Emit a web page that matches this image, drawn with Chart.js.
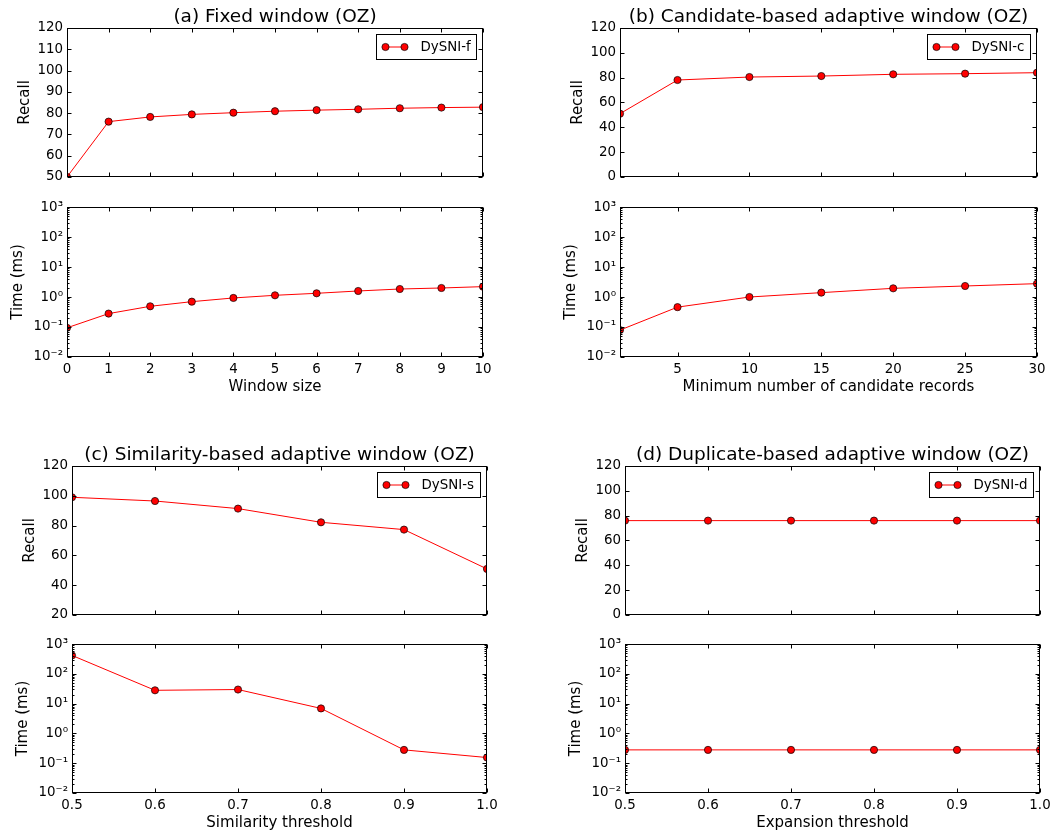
<!DOCTYPE html>
<html>
<head>
<meta charset="utf-8">
<script src="https://cdn.jsdelivr.net/npm/chart.js@4.4.1/dist/chart.umd.min.js"></script>
<style>
  body { margin: 0; background: #fff; }
  #fig { position: relative; width: 1064px; height: 835px; overflow: hidden; background: #fff; }
  #fig canvas { position: absolute; }
</style>
</head>
<body>
<div id="fig"></div>
<script>
// --- values ---
const windowSizes = [0, 1, 2, 3, 4, 5, 6, 7, 8, 9, 10];
const recallFixed = [50, 76, 78.2, 79.4, 80.2, 80.9, 81.4, 81.8, 82.3, 82.6, 82.8];
const timeFixed = [0.094, 0.28, 0.49, 0.70, 0.93, 1.14, 1.33, 1.59, 1.85, 2.0, 2.22];

const minCandidates = [1, 5, 10, 15, 20, 25, 30];
const recallCand = [51, 78.1, 80.5, 81.3, 82.7, 83.2, 84.0];
const timeCand = [0.079, 0.46, 1.0, 1.40, 1.95, 2.33, 2.79];

const simThresholds = [0.5, 0.6, 0.7, 0.8, 0.9, 1.0];
const recallSim = [99, 96.5, 91.4, 82.2, 77.3, 50.9];
const timeSim = [415, 28, 29.7, 6.9, 0.28, 0.155];

const expThresholds = [0.5, 0.6, 0.7, 0.8, 0.9, 1.0];
const recallDup = [76, 76, 76, 76, 76, 76];
const timeDup = [0.28, 0.28, 0.28, 0.28, 0.28, 0.28];

// --- tick labels ---
const xTicksFixed = [0, 1, 2, 3, 4, 5, 6, 7, 8, 9, 10];
const xTicksCand = [5, 10, 15, 20, 25, 30];
const xTicksThresh = [0.5, 0.6, 0.7, 0.8, 0.9, 1.0];
const recallTicksFixed = [50, 60, 70, 80, 90, 100, 110, 120];
const recallTicks0 = [0, 20, 40, 60, 80, 100, 120];
const recallTicks20 = [20, 40, 60, 80, 100, 120];
const timeTicks = [0.01, 0.1, 1, 10, 100, 1000];
const timeTickLabels = ['10\u207B\u00B2', '10\u207B\u00B9', '10\u2070', '10\u00B9', '10\u00B2', '10\u00B3'];

Chart.defaults.font.family = "'DejaVu Sans'";
Chart.defaults.color = '#000';

// frame + inward ticks on all four sides, like the matplotlib classic style
const frameTicks = {
  id: 'frameTicks',
  afterDatasetsDraw(chart) {
    const { ctx, chartArea: a, scales: { x, y } } = chart;
    const L = Math.round(a.left) + 0.5, R = Math.round(a.right) - 0.5;
    const T = Math.round(a.top) + 0.5, B = Math.round(a.bottom) - 0.5;
    ctx.save();
    ctx.strokeStyle = '#000';
    ctx.lineWidth = 1;
    ctx.strokeRect(L, T, R - L, B - T);
    ctx.beginPath();
    x.ticks.forEach(t => {
      const px = Math.round(x.getPixelForValue(t.value)) + 0.5;
      ctx.moveTo(px, B); ctx.lineTo(px, B - 4);
      ctx.moveTo(px, T); ctx.lineTo(px, T + 4);
    });
    y.ticks.forEach(t => {
      const py = Math.round(y.getPixelForValue(t.value)) + 0.5;
      ctx.moveTo(L, py); ctx.lineTo(L + 4, py);
      ctx.moveTo(R, py); ctx.lineTo(R - 4, py);
    });
    if (y.type === 'logarithmic') {
      for (let d = y.min; d < y.max; d *= 10) {
        for (let m = 2; m <= 9; m++) {
          const py = Math.round(y.getPixelForValue(d * m)) + 0.5;
          ctx.moveTo(L, py); ctx.lineTo(L + 2, py);
          ctx.moveTo(R, py); ctx.lineTo(R - 2, py);
        }
      }
    }
    ctx.stroke();
    ctx.restore();
  }
};

// boxed legend in the upper right corner of the axes
const cornerLegend = {
  id: 'cornerLegend',
  afterDraw(chart, args, opts) {
    if (!opts.show) return;
    const { ctx, chartArea: a } = chart;
    const ds = chart.data.datasets[0];
    ctx.save();
    ctx.font = "13.4px 'DejaVu Sans'";
    const tw = ctx.measureText(ds.label).width;
    const w = Math.round(44 + tw + 6), h = 25;
    const bx = Math.round(a.right - 7 - w) + 0.5, by = Math.round(a.top + 6) + 0.5;
    ctx.fillStyle = '#fff';
    ctx.fillRect(bx, by, w, h);
    ctx.strokeStyle = '#000';
    ctx.lineWidth = 1;
    ctx.strokeRect(bx, by, w, h);
    const my = by + h / 2;
    ctx.strokeStyle = ds.borderColor;
    ctx.beginPath();
    ctx.moveTo(bx + 9, my); ctx.lineTo(bx + 28, my);
    ctx.stroke();
    [bx + 9, bx + 28].forEach(cx => {
      ctx.beginPath();
      ctx.arc(cx, my, 3.6, 0, Math.PI * 2);
      ctx.fillStyle = ds.pointBackgroundColor;
      ctx.fill();
      ctx.lineWidth = 0.7;
      ctx.strokeStyle = ds.pointBorderColor;
      ctx.stroke();
    });
    ctx.fillStyle = '#000';
    ctx.textBaseline = 'middle';
    ctx.fillText(ds.label, bx + 44, my + 0.5);
    ctx.restore();
  }
};

const fig = document.getElementById('fig');
const YW = 60, PR = 24;

function makeChart(p) {
  const top = p.title ? 26 : 12;
  const bottom = p.xTitle ? 45 : 12;
  const cv = document.createElement('canvas');
  const w = YW + (p.box[2] - p.box[0]) + PR;
  const h = top + (p.box[3] - p.box[1]) + bottom;
  cv.width = w; cv.height = h;
  cv.style.left = (p.box[0] - YW) + 'px';
  cv.style.top = (p.box[1] - top) + 'px';
  fig.appendChild(cv);
  const isLog = p.yType === 'logarithmic';
  new Chart(cv, {
    type: 'line',
    data: {
      datasets: [{
        label: p.label || '',
        data: p.xs.map((x, i) => ({ x: x, y: p.ys[i] })),
        borderColor: '#ff0000',
        borderWidth: 1,
        pointBackgroundColor: '#ff0000',
        pointBorderColor: '#000',
        pointBorderWidth: 0.7,
        pointRadius: 3.6,
        tension: 0
      }]
    },
    options: {
      responsive: false,
      animation: false,
      events: [],
      layout: { padding: { left: 0, right: PR, top: p.title ? 0 : top, bottom: 0 } },
      plugins: {
        legend: { display: false },
        tooltip: { enabled: false },
        title: {
          display: !!p.title,
          text: p.title,
          fullSize: false,
          color: '#000',
          font: { size: 18.5, weight: 'normal' },
          padding: { top: 3.8, bottom: 0 }
        },
        cornerLegend: { show: !!p.label }
      },
      scales: {
        x: {
          type: 'linear',
          min: p.xMin, max: p.xMax,
          afterBuildTicks: s => { s.ticks = p.xTicks.map(v => ({ value: v })); },
          afterFit: s => { s.height = bottom; },
          grid: { display: false, drawTicks: false },
          border: { display: false },
          ticks: {
            display: !!p.xTitle,
            padding: 4,
            font: { size: 13.4 },
            callback: v => p.xFmt ? p.xFmt(v) : String(v)
          },
          title: {
            display: !!p.xTitle,
            text: p.xTitle,
            font: { size: 15 },
            padding: { top: 0, bottom: 6 }
          }
        },
        y: {
          type: p.yType,
          min: p.yMin, max: p.yMax,
          afterBuildTicks: s => { s.ticks = p.yTicks.map(v => ({ value: v })); },
          afterFit: s => { s.width = YW; },
          grid: { display: false, drawTicks: false },
          border: { display: false },
          ticks: {
            padding: 4,
            font: { size: 13.4 },
            callback: v => isLog ? timeTickLabels[timeTicks.indexOf(v)] : String(v)
          },
          title: {
            display: true,
            text: p.yTitle,
            font: { size: 15 },
            padding: { top: isLog ? 2.5 : 9, bottom: 0 }
          }
        }
      }
    },
    plugins: [frameTicks, cornerLegend]
  });
}

const fmt1 = v => v.toFixed(1);

// (a) fixed window
makeChart({ box: [67, 28, 483, 177], title: '(a) Fixed window (OZ)', label: 'DySNI-f',
  xs: windowSizes, ys: recallFixed, xMin: 0, xMax: 10, xTicks: xTicksFixed,
  yType: 'linear', yMin: 50, yMax: 120, yTicks: recallTicksFixed, yTitle: 'Recall' });
makeChart({ box: [67, 207, 483, 357], xTitle: 'Window size',
  xs: windowSizes, ys: timeFixed, xMin: 0, xMax: 10, xTicks: xTicksFixed,
  yType: 'logarithmic', yMin: 0.01, yMax: 1000, yTicks: timeTicks, yTitle: 'Time (ms)' });

// (b) candidate-based adaptive window
makeChart({ box: [620, 28, 1037, 177], title: '(b) Candidate-based adaptive window (OZ)', label: 'DySNI-c',
  xs: minCandidates, ys: recallCand, xMin: 1, xMax: 30, xTicks: xTicksCand,
  yType: 'linear', yMin: 0, yMax: 120, yTicks: recallTicks0, yTitle: 'Recall' });
makeChart({ box: [620, 207, 1037, 357], xTitle: 'Minimum number of candidate records',
  xs: minCandidates, ys: timeCand, xMin: 1, xMax: 30, xTicks: xTicksCand,
  yType: 'logarithmic', yMin: 0.01, yMax: 1000, yTicks: timeTicks, yTitle: 'Time (ms)' });

// (c) similarity-based adaptive window
makeChart({ box: [72, 466, 487, 615], title: '(c) Similarity-based adaptive window (OZ)', label: 'DySNI-s',
  xs: simThresholds, ys: recallSim, xMin: 0.5, xMax: 1.0, xTicks: xTicksThresh, xFmt: fmt1,
  yType: 'linear', yMin: 20, yMax: 120, yTicks: recallTicks20, yTitle: 'Recall' });
makeChart({ box: [72, 644, 487, 793], xTitle: 'Similarity threshold', xFmt: fmt1,
  xs: simThresholds, ys: timeSim, xMin: 0.5, xMax: 1.0, xTicks: xTicksThresh,
  yType: 'logarithmic', yMin: 0.01, yMax: 1000, yTicks: timeTicks, yTitle: 'Time (ms)' });

// (d) duplicate-based adaptive window
makeChart({ box: [625, 466, 1040, 615], title: '(d) Duplicate-based adaptive window (OZ)', label: 'DySNI-d',
  xs: expThresholds, ys: recallDup, xMin: 0.5, xMax: 1.0, xTicks: xTicksThresh, xFmt: fmt1,
  yType: 'linear', yMin: 0, yMax: 120, yTicks: recallTicks0, yTitle: 'Recall' });
makeChart({ box: [625, 644, 1040, 793], xTitle: 'Expansion threshold', xFmt: fmt1,
  xs: expThresholds, ys: timeDup, xMin: 0.5, xMax: 1.0, xTicks: xTicksThresh,
  yType: 'logarithmic', yMin: 0.01, yMax: 1000, yTicks: timeTicks, yTitle: 'Time (ms)' });
</script>
</body>
</html>
